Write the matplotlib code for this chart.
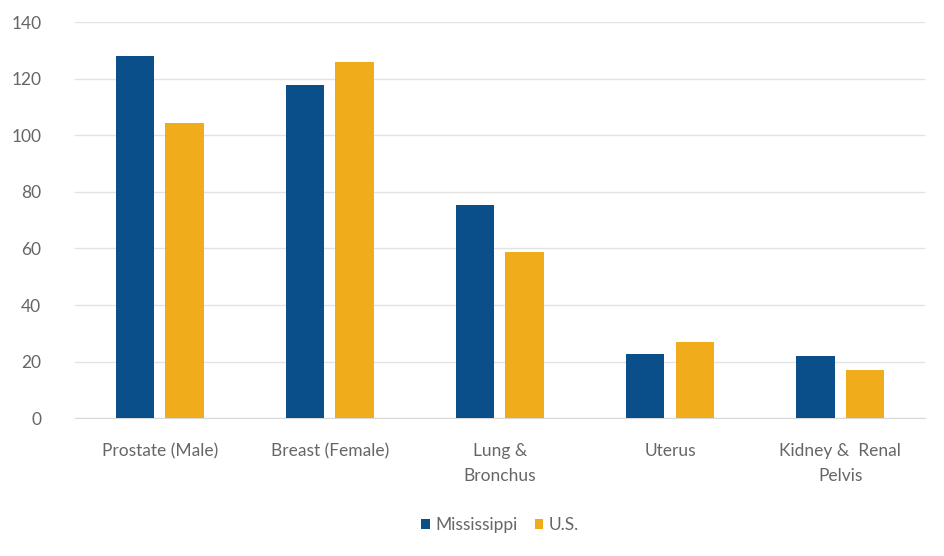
import numpy as np
import matplotlib.pyplot as plt

plt.rcParams['font.family'] = ['Lato', 'DejaVu Sans']

categories = ['Prostate (Male)', 'Breast (Female)', 'Lung &\nBronchus', 'Uterus', 'Kidney &  Renal\nPelvis']
mississippi = [128, 117.7, 75.3, 22.6, 21.9]
us = [104.5, 125.8, 58.7, 26.9, 17.0]

MS_COLOR = '#0b4f8a'
US_COLOR = '#f0ac1b'
TEXT_COLOR = '#666666'

fig = plt.figure(figsize=(9.45, 5.56), dpi=100)
ax = fig.add_axes([0.079, 0.248, 0.9, 0.712])

x = np.arange(len(categories))
w = 0.225
ax.bar(x - 0.145, mississippi, w, color=MS_COLOR, label='Mississippi', zorder=3)
ax.bar(x + 0.145, us, w, color=US_COLOR, label='U.S.', zorder=3)

ax.set_xlim(-0.5, len(categories) - 0.5)
ax.set_ylim(0, 140)
ax.set_yticks(range(0, 141, 20))
ax.yaxis.grid(True, color='#e3e3e3', linewidth=1, zorder=0)
ax.set_xticks(x)
ax.set_xticklabels(categories, fontsize=12.5, color=TEXT_COLOR, linespacing=1.7)
ax.tick_params(axis='y', labelsize=12.5, labelcolor=TEXT_COLOR, length=0, pad=24)
ax.tick_params(axis='x', length=0, pad=18)
for s in ['top', 'right', 'left']:
    ax.spines[s].set_visible(False)
ax.spines['bottom'].set_color('#d9d9d9')

ax.legend(loc='upper center', bbox_to_anchor=(0.5, -0.21), ncol=2, frameon=False,
          fontsize=12.5, labelcolor=TEXT_COLOR, handlelength=0.5, handleheight=0.5,
          handletextpad=0.3, columnspacing=1.0)

fig.savefig('out.png', dpi=100)
